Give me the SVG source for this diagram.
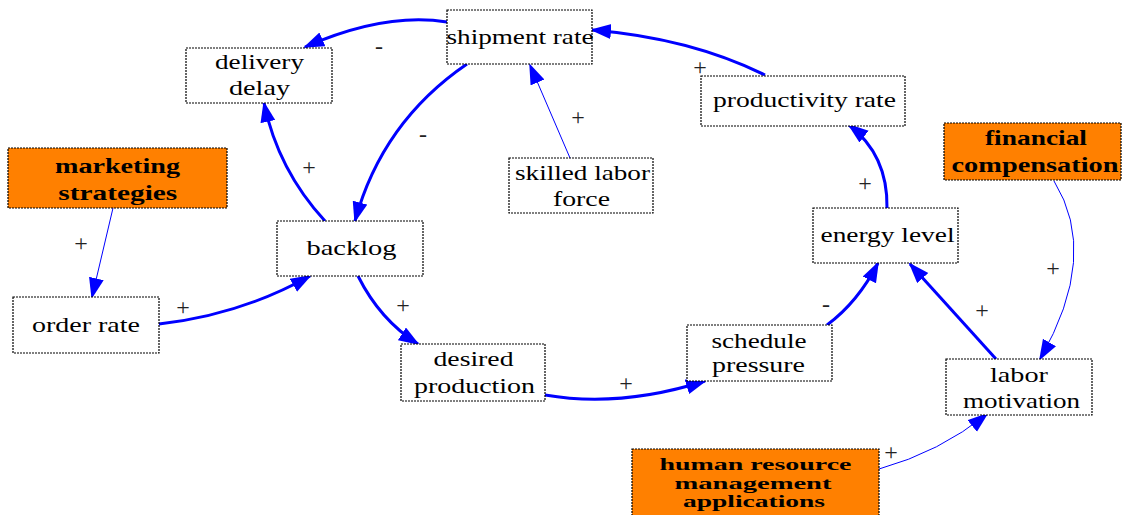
<svg xmlns="http://www.w3.org/2000/svg" width="1122" height="515" viewBox="0 0 1122 515">
<style>
.box{fill:#fff;stroke:#000;stroke-width:1.2;stroke-dasharray:2 1}
.obox{fill:#FF8000;stroke:#000;stroke-width:1.2;stroke-dasharray:2 1}
.t{font-family:"Liberation Serif","Times New Roman",serif;font-size:21px;fill:#000;text-anchor:middle}
.b{font-family:"Liberation Serif","Times New Roman",serif;font-size:21px;font-weight:bold;fill:#000;text-anchor:middle}
.hb{font-family:"Liberation Serif","Times New Roman",serif;font-size:16.5px;font-weight:bold;fill:#000;text-anchor:middle}
.thick{fill:none;stroke:#0000FF;stroke-width:3;marker-end:url(#ah)}
.thin{fill:none;stroke:#0000FF;stroke-width:1;marker-end:url(#ah)}
.s{font-family:"Liberation Serif","Times New Roman",serif;font-size:24px;fill:#222;text-anchor:middle}
</style>
<defs>
<marker id="ah" markerUnits="userSpaceOnUse" markerWidth="22" markerHeight="16" refX="19" refY="7.5" orient="auto">
<path d="M0,0 L21,7.5 L0,15 z" fill="#0000FF"/>
</marker>
</defs>
<g id="connectors">
<path class="thick" d="M447,22 Q385,12 305,47"/>
<path class="thick" d="M467,64 Q382,122 355,221"/>
<path class="thick" d="M325,221 Q278,170 264,103"/>
<path class="thin" d="M570,158 L530,65"/>
<path class="thick" d="M765,75 Q690,38 592,30"/>
<path class="thick" d="M887,208 Q888,155 849,125"/>
<path class="thick" d="M827,325 Q858,302 878,263"/>
<path class="thick" d="M996,359 L910,264"/>
<path class="thin" d="M1054,181 Q1100,255 1040,359"/>
<path class="thin" d="M879,469 Q940,452 987,414"/>
<path class="thin" d="M113,208 L92,297"/>
<path class="thick" d="M159,324 Q240,315 310,276"/>
<path class="thick" d="M358,276 Q380,320 418,344"/>
<path class="thick" d="M545,395 Q620,408 705,381"/>
<text class="s" x="379" y="54">-</text>
<text class="s" x="423" y="142">-</text>
<text class="s" x="309" y="175">+</text>
<text class="s" x="578" y="125">+</text>
<text class="s" x="700" y="75">+</text>
<text class="s" x="865" y="191">+</text>
<text class="s" x="826" y="312">-</text>
<text class="s" x="982" y="318">+</text>
<text class="s" x="1053" y="276">+</text>
<text class="s" x="891" y="460">+</text>
<text class="s" x="81" y="251">+</text>
<text class="s" x="183" y="315">+</text>
<text class="s" x="403" y="313">+</text>
<text class="s" x="626" y="391">+</text>
</g>
<g id="shipment-rate">
<rect class="box" x="447" y="10" width="145" height="54"/>
<text class="t" x="520" y="44" textLength="147" lengthAdjust="spacingAndGlyphs">shipment rate</text>
</g>
<g id="delivery-delay">
<rect class="box" x="186" y="48" width="146" height="55"/>
<text class="t" x="259.5" y="69" textLength="89" lengthAdjust="spacingAndGlyphs">delivery</text>
<text class="t" x="259.5" y="95" textLength="61" lengthAdjust="spacingAndGlyphs">delay</text>
</g>
<g id="marketing-strategies">
<rect class="obox" x="8" y="148" width="219" height="60"/>
<text class="b" x="117.5" y="173" textLength="125" lengthAdjust="spacingAndGlyphs">marketing</text>
<text class="b" x="117.8" y="200" textLength="119" lengthAdjust="spacingAndGlyphs">strategies</text>
</g>
<g id="backlog">
<rect class="box" x="277" y="221" width="146" height="55"/>
<text class="t" x="351.5" y="255" textLength="90" lengthAdjust="spacingAndGlyphs">backlog</text>
</g>
<g id="order-rate">
<rect class="box" x="13" y="297" width="146" height="56"/>
<text class="t" x="86" y="332" textLength="108" lengthAdjust="spacingAndGlyphs">order rate</text>
</g>
<g id="desired-production">
<rect class="box" x="401" y="344" width="144" height="57"/>
<text class="t" x="473.5" y="366" textLength="80" lengthAdjust="spacingAndGlyphs">desired</text>
<text class="t" x="474.5" y="393" textLength="121" lengthAdjust="spacingAndGlyphs">production</text>
</g>
<g id="schedule-pressure">
<rect class="box" x="687" y="325" width="145" height="56"/>
<text class="t" x="759" y="348" textLength="95" lengthAdjust="spacingAndGlyphs">schedule</text>
<text class="t" x="758.5" y="372" textLength="93" lengthAdjust="spacingAndGlyphs">pressure</text>
</g>
<g id="skilled-labor-force">
<rect class="box" x="509" y="158" width="144" height="55"/>
<text class="t" x="582.5" y="180" textLength="135" lengthAdjust="spacingAndGlyphs">skilled labor</text>
<text class="t" x="581.5" y="206" textLength="57" lengthAdjust="spacingAndGlyphs">force</text>
</g>
<g id="productivity-rate">
<rect class="box" x="701" y="76" width="204" height="50"/>
<text class="t" x="804.5" y="107" textLength="183" lengthAdjust="spacingAndGlyphs">productivity rate</text>
</g>
<g id="energy-level">
<rect class="box" x="813" y="208" width="145" height="55"/>
<text class="t" x="887.5" y="242" textLength="134" lengthAdjust="spacingAndGlyphs">energy level</text>
</g>
<g id="financial-compensation">
<rect class="obox" x="944" y="123" width="177" height="57"/>
<text class="b" x="1036" y="145" textLength="102" lengthAdjust="spacingAndGlyphs">financial</text>
<text class="b" x="1035" y="172" textLength="167" lengthAdjust="spacingAndGlyphs">compensation</text>
</g>
<g id="labor-motivation">
<rect class="box" x="946" y="359" width="146" height="56"/>
<text class="t" x="1019" y="382" textLength="58" lengthAdjust="spacingAndGlyphs">labor</text>
<text class="t" x="1021.5" y="408" textLength="117" lengthAdjust="spacingAndGlyphs">motivation</text>
</g>
<g id="human-resource-management-applications">
<rect class="obox" x="632" y="449" width="247" height="70"/>
<text class="hb" x="755.5" y="470" textLength="192" lengthAdjust="spacingAndGlyphs">human resource</text>
<text class="hb" x="753" y="488.5" textLength="157" lengthAdjust="spacingAndGlyphs">management</text>
<text class="hb" x="754" y="507" textLength="142" lengthAdjust="spacingAndGlyphs">applications</text>
</g>
</svg>
